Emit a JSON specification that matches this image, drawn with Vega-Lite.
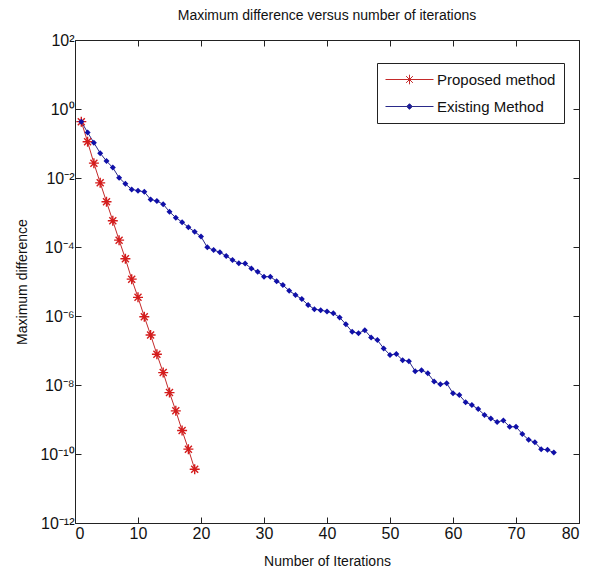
{
  "$schema": "https://vega.github.io/schema/vega-lite/v6.json",
  "width": 504,
  "height": 483,
  "autosize": "none",
  "padding": {"left": 75, "top": 40, "right": 14, "bottom": 48},
  "background": "white",
  "title": {"text": "Maximum difference versus number of iterations", "fontSize": 14, "fontWeight": "normal", "font": "Liberation Sans", "color": "#111", "offset": 9, "anchor": "middle"},
  "config": {
    "font": "Liberation Sans",
    "view": {"stroke": "#222", "strokeWidth": 1},
    "axis": {"grid": false, "domainColor": "#222", "tickColor": "#222", "labelColor": "#111", "titleColor": "#111", "labelFontSize": 16, "titleFontSize": 14, "titleFontWeight": "normal", "tickSize": -6, "labelFont": "Liberation Sans", "titleFont": "Liberation Sans"}
  },
  "data": {"values": [
    {"it": 1, "m": "Proposed method", "v": 4.3e-1},
    {"it": 2, "m": "Proposed method", "v": 1.12e-1},
    {"it": 3, "m": "Proposed method", "v": 2.69e-2},
    {"it": 4, "m": "Proposed method", "v": 7.24e-3},
    {"it": 5, "m": "Proposed method", "v": 2.04e-3},
    {"it": 6, "m": "Proposed method", "v": 5.75e-4},
    {"it": 7, "m": "Proposed method", "v": 1.58e-4},
    {"it": 8, "m": "Proposed method", "v": 4.57e-5},
    {"it": 9, "m": "Proposed method", "v": 1.17e-5},
    {"it": 10, "m": "Proposed method", "v": 3.47e-6},
    {"it": 11, "m": "Proposed method", "v": 9.55e-7},
    {"it": 12, "m": "Proposed method", "v": 2.82e-7},
    {"it": 13, "m": "Proposed method", "v": 7.76e-8},
    {"it": 14, "m": "Proposed method", "v": 2.29e-8},
    {"it": 15, "m": "Proposed method", "v": 6.03e-9},
    {"it": 16, "m": "Proposed method", "v": 1.78e-9},
    {"it": 17, "m": "Proposed method", "v": 4.79e-10},
    {"it": 18, "m": "Proposed method", "v": 1.38e-10},
    {"it": 19, "m": "Proposed method", "v": 3.63e-11},
    {"it": 1, "m": "Existing Method", "v": 4.3e-1},
    {"it": 2, "m": "Existing Method", "v": 2.09e-1},
    {"it": 3, "m": "Existing Method", "v": 1.05e-1},
    {"it": 4, "m": "Existing Method", "v": 5.25e-2},
    {"it": 5, "m": "Existing Method", "v": 3.09e-2},
    {"it": 6, "m": "Existing Method", "v": 2.0e-2},
    {"it": 7, "m": "Existing Method", "v": 1.02e-2},
    {"it": 8, "m": "Existing Method", "v": 6.76e-3},
    {"it": 9, "m": "Existing Method", "v": 4.68e-3},
    {"it": 10, "m": "Existing Method", "v": 4.27e-3},
    {"it": 11, "m": "Existing Method", "v": 3.98e-3},
    {"it": 12, "m": "Existing Method", "v": 2.40e-3},
    {"it": 13, "m": "Existing Method", "v": 2.14e-3},
    {"it": 14, "m": "Existing Method", "v": 1.74e-3},
    {"it": 15, "m": "Existing Method", "v": 1.05e-3},
    {"it": 16, "m": "Existing Method", "v": 7.08e-4},
    {"it": 17, "m": "Existing Method", "v": 5.25e-4},
    {"it": 18, "m": "Existing Method", "v": 3.72e-4},
    {"it": 19, "m": "Existing Method", "v": 2.75e-4},
    {"it": 20, "m": "Existing Method", "v": 2.0e-4},
    {"it": 21, "m": "Existing Method", "v": 9.77e-5},
    {"it": 22, "m": "Existing Method", "v": 8.13e-5},
    {"it": 23, "m": "Existing Method", "v": 7.08e-5},
    {"it": 24, "m": "Existing Method", "v": 5.50e-5},
    {"it": 25, "m": "Existing Method", "v": 4.17e-5},
    {"it": 26, "m": "Existing Method", "v": 3.39e-5},
    {"it": 27, "m": "Existing Method", "v": 3.31e-5},
    {"it": 28, "m": "Existing Method", "v": 2.40e-5},
    {"it": 29, "m": "Existing Method", "v": 1.91e-5},
    {"it": 30, "m": "Existing Method", "v": 1.38e-5},
    {"it": 31, "m": "Existing Method", "v": 1.38e-5},
    {"it": 32, "m": "Existing Method", "v": 1.02e-5},
    {"it": 33, "m": "Existing Method", "v": 7.94e-6},
    {"it": 34, "m": "Existing Method", "v": 5.37e-6},
    {"it": 35, "m": "Existing Method", "v": 4.07e-6},
    {"it": 36, "m": "Existing Method", "v": 3.09e-6},
    {"it": 37, "m": "Existing Method", "v": 2.09e-6},
    {"it": 38, "m": "Existing Method", "v": 1.58e-6},
    {"it": 39, "m": "Existing Method", "v": 1.48e-6},
    {"it": 40, "m": "Existing Method", "v": 1.35e-6},
    {"it": 41, "m": "Existing Method", "v": 1.20e-6},
    {"it": 42, "m": "Existing Method", "v": 9.12e-7},
    {"it": 43, "m": "Existing Method", "v": 5.75e-7},
    {"it": 44, "m": "Existing Method", "v": 3.47e-7},
    {"it": 45, "m": "Existing Method", "v": 3.16e-7},
    {"it": 46, "m": "Existing Method", "v": 3.89e-7},
    {"it": 47, "m": "Existing Method", "v": 2.40e-7},
    {"it": 48, "m": "Existing Method", "v": 2.0e-7},
    {"it": 49, "m": "Existing Method", "v": 1.15e-7},
    {"it": 50, "m": "Existing Method", "v": 7.41e-8},
    {"it": 51, "m": "Existing Method", "v": 7.94e-8},
    {"it": 52, "m": "Existing Method", "v": 5.25e-8},
    {"it": 53, "m": "Existing Method", "v": 4.90e-8},
    {"it": 54, "m": "Existing Method", "v": 2.51e-8},
    {"it": 55, "m": "Existing Method", "v": 2.69e-8},
    {"it": 56, "m": "Existing Method", "v": 2.19e-8},
    {"it": 57, "m": "Existing Method", "v": 1.26e-8},
    {"it": 58, "m": "Existing Method", "v": 1.05e-8},
    {"it": 59, "m": "Existing Method", "v": 1.12e-8},
    {"it": 60, "m": "Existing Method", "v": 5.75e-9},
    {"it": 61, "m": "Existing Method", "v": 5.13e-9},
    {"it": 62, "m": "Existing Method", "v": 3.16e-9},
    {"it": 63, "m": "Existing Method", "v": 2.63e-9},
    {"it": 64, "m": "Existing Method", "v": 2.0e-9},
    {"it": 65, "m": "Existing Method", "v": 1.35e-9},
    {"it": 66, "m": "Existing Method", "v": 1.07e-9},
    {"it": 67, "m": "Existing Method", "v": 8.51e-10},
    {"it": 68, "m": "Existing Method", "v": 9.33e-10},
    {"it": 69, "m": "Existing Method", "v": 6.17e-10},
    {"it": 70, "m": "Existing Method", "v": 6.17e-10},
    {"it": 71, "m": "Existing Method", "v": 3.80e-10},
    {"it": 72, "m": "Existing Method", "v": 2.57e-10},
    {"it": 73, "m": "Existing Method", "v": 2.19e-10},
    {"it": 74, "m": "Existing Method", "v": 1.38e-10},
    {"it": 75, "m": "Existing Method", "v": 1.32e-10},
    {"it": 76, "m": "Existing Method", "v": 1.10e-10}
  ]},
  "resolve": {"axis": {"x": "independent", "y": "independent"}},
  "layer": [
    {
      "mark": {"type": "line", "strokeWidth": 1, "clip": true},
      "encoding": {
        "x": {"field": "it", "type": "quantitative", "scale": {"domain": [0, 80], "nice": false, "zero": false},
              "axis": {"values": [0, 10, 20, 30, 40, 50, 60, 70, 80], "title": "Number of Iterations", "labelPadding": 8, "titlePadding": 13, "domain": false}},
        "y": {"field": "v", "type": "quantitative", "scale": {"type": "log", "domain": [1e-12, 100], "nice": false},
              "axis": {"values": [1e-12, 1e-10, 1e-8, 1e-6, 1e-4, 1e-2, 1, 100], "title": "Maximum difference", "labelPadding": 7, "titlePadding": 10, "domain": false,
                       "labelExpr": "'10' + (datum.value >= 50 ? '²' : datum.value >= 0.5 ? '⁰' : datum.value >= 5e-3 ? '⁻²' : datum.value >= 5e-5 ? '⁻⁴' : datum.value >= 5e-7 ? '⁻⁶' : datum.value >= 5e-9 ? '⁻⁸' : datum.value >= 5e-11 ? '⁻¹⁰' : '⁻¹²')"}},
        "color": {"field": "m", "type": "nominal", "sort": ["Proposed method", "Existing Method"],
                  "scale": {"domain": ["Proposed method", "Existing Method"], "range": ["#c42a2a", "#2a2a8a"]},
                  "legend": {"title": null, "orient": "none", "legendX": 302, "legendY": 23, "strokeColor": "#222", "fillColor": "white", "padding": 8,
                             "labelFontSize": 15, "labelFont": "Liberation Sans", "labelColor": "#111", "symbolSize": 256, "symbolOffset": 16, "labelOffset": 19, "rowPadding": 10, "symbolStrokeWidth": 1,
                             "encode": {"symbols": {"update": {
                               "shape": {"signal": "datum.value === 'Proposed method' ? 'M-3,0H3M0,-0.6V0.6M-0.6,0H0.6M-0.42,-0.42L0.42,0.42M-0.42,0.42L0.42,-0.42' : 'M-3,0H3M0,-0.35L0.35,0L0,0.35L-0.35,0Z'"},
                               "fill": {"signal": "datum.value === 'Proposed method' ? 'transparent' : '#1010a8'"},
                               "stroke": {"signal": "datum.value === 'Proposed method' ? '#c42a2a' : '#2a2a8a'"},
                               "strokeWidth": {"value": 1}
                             }}}}}
      }
    },
    {
      "transform": [{"filter": "datum.m === 'Proposed method'"}],
      "mark": {"type": "point", "shape": "M0,-1V1M-1,0H1M-0.7,-0.7L0.7,0.7M-0.7,0.7L0.7,-0.7", "filled": false, "size": 100, "strokeWidth": 1.4, "color": "#d41c1c", "opacity": 1},
      "encoding": {
        "x": {"field": "it", "type": "quantitative", "axis": {"orient": "top", "values": [0, 10, 20, 30, 40, 50, 60, 70, 80], "labels": false, "title": null, "domain": false}},
        "y": {"field": "v", "type": "quantitative", "axis": {"orient": "right", "values": [1e-12, 1e-10, 1e-8, 1e-6, 1e-4, 1e-2, 1, 100], "labels": false, "title": null, "domain": false}}
      }
    },
    {
      "transform": [{"filter": "datum.m === 'Existing Method'"}],
      "mark": {"type": "point", "shape": "diamond", "filled": true, "size": 36, "color": "#1010a8", "opacity": 1},
      "encoding": {
        "x": {"field": "it", "type": "quantitative", "axis": null},
        "y": {"field": "v", "type": "quantitative", "axis": null}
      }
    }
  ]
}
